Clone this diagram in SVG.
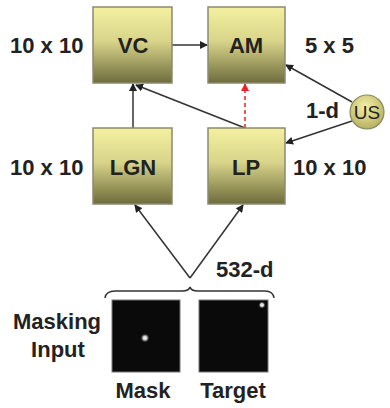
<svg xmlns="http://www.w3.org/2000/svg" width="390" height="408" viewBox="0 0 390 408">
<style>
text{font-family:"Liberation Sans",Arial,sans-serif;font-weight:bold;font-size:22px;fill:#222}
.box{fill:url(#g);stroke:#8a8a70;stroke-width:1.5}
.c{text-anchor:middle}
.ln{stroke:#333;stroke-width:1.5;fill:none}
</style>
<defs>
<linearGradient id="g" x1="0" y1="0" x2="0" y2="1">
<stop offset="0" stop-color="#f3f1a0"/>
<stop offset="0.45" stop-color="#d8d48a"/>
<stop offset="1" stop-color="#6e6c3c"/>
</linearGradient>
<radialGradient id="cg" cx="0.45" cy="0.35" r="0.7">
<stop offset="0" stop-color="#f4f0a8"/>
<stop offset="1" stop-color="#b2ac5a"/>
</radialGradient>
<radialGradient id="dot">
<stop offset="0" stop-color="#fff"/>
<stop offset="0.4" stop-color="#ccc"/>
<stop offset="1" stop-color="#000" stop-opacity="0"/>
</radialGradient>
<marker id="a" markerWidth="8" markerHeight="8" refX="7" refY="4" orient="auto" markerUnits="userSpaceOnUse">
<path d="M0,0 L8,4 L0,8 Z" fill="#222"/>
</marker>
<marker id="r" markerWidth="8" markerHeight="8" refX="7" refY="4" orient="auto" markerUnits="userSpaceOnUse">
<path d="M0,0 L8,4 L0,8 Z" fill="#ee2222"/>
</marker>
</defs>
<g id="connectors">
<line class="ln" x1="172" y1="45" x2="207" y2="45" marker-end="url(#a)"/>
<line class="ln" x1="133" y1="128" x2="133" y2="84" marker-end="url(#a)"/>
<line class="ln" x1="245" y1="128" x2="136" y2="85" marker-end="url(#a)"/>
<line x1="245" y1="128" x2="245" y2="84" stroke="#ee2222" stroke-width="1.5" stroke-dasharray="4,3" marker-end="url(#r)"/>
<line class="ln" x1="352" y1="102" x2="286" y2="65" marker-end="url(#a)"/>
<line class="ln" x1="352" y1="121" x2="286" y2="143" marker-end="url(#a)"/>
<line class="ln" x1="190" y1="278" x2="135" y2="205" marker-end="url(#a)"/>
<line class="ln" x1="190" y1="278" x2="243" y2="205" marker-end="url(#a)"/>
<path class="ln" stroke-width="1.2" d="M105,298 Q106,291 115,291 L182,291 Q189,291 190,287 Q191,291 198,291 L265,291 Q273,291 274,298"/>
</g>
<g id="VC"><rect class="box" x="93" y="7" width="79" height="76"/><text class="c" x="133" y="53">VC</text></g>
<g id="AM"><rect class="box" x="208" y="7" width="77" height="76"/><text class="c" x="246" y="53">AM</text></g>
<g id="LGN"><rect class="box" x="93" y="128" width="79" height="76"/><text class="c" x="133" y="175">LGN</text></g>
<g id="LP"><rect class="box" x="208" y="128" width="77" height="76"/><text class="c" x="246" y="175">LP</text></g>
<g id="US"><circle cx="367" cy="112" r="17" fill="url(#cg)" stroke="#8a8a60" stroke-width="1.2"/><text class="c" x="367" y="119" style="font-weight:normal;font-size:19px">US</text></g>
<g id="mask"><rect x="112" y="300" width="68" height="72" fill="#0a0a0a" stroke="#777" stroke-width="1"/><circle cx="145" cy="338" r="5" fill="url(#dot)"/></g>
<g id="target"><rect x="199" y="300" width="69" height="72" fill="#0a0a0a" stroke="#777" stroke-width="1"/><circle cx="262" cy="305" r="4" fill="url(#dot)"/></g>
<text x="10" y="53">10 x 10</text>
<text x="305" y="53">5 x 5</text>
<text x="306" y="118">1-d</text>
<text x="10" y="175">10 x 10</text>
<text x="293" y="175">10 x 10</text>
<text x="216" y="277">532-d</text>
<text class="c" x="57" y="329">Masking</text>
<text class="c" x="58" y="357">Input</text>
<text class="c" x="143" y="398">Mask</text>
<text class="c" x="233" y="398">Target</text>
</svg>
